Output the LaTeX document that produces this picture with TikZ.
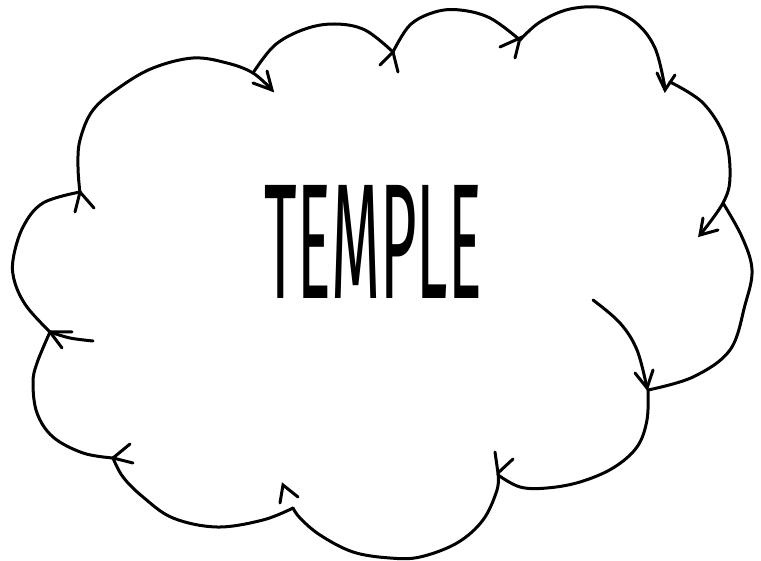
\documentclass[tikz,border=0pt]{standalone}
\usepackage{fontspec}
\newfontfamily\titlefont{Fira Sans}
\usepackage{graphicx}
\tikzset{
  cloudline/.style={line width=3pt, line cap=round, line join=round},
  barb/.style={line width=3pt, line cap=round, line join=miter},
}
\begin{document}
\begin{tikzpicture}[x=1pt,y=-1pt]
\useasboundingbox (0,0) rectangle (761,561);
% cloud arcs
\draw[cloudline] plot[smooth,tension=0.6] coordinates {(80,193) (78,167) (80,140) (93,110) (120,87) (153,68) (193,58) (227,63) (253,73) (272,90)};
\draw[cloudline] plot[smooth,tension=0.6] coordinates {(253,73) (275,45) (305,29) (335,24) (365,30) (393,52)};
\draw[cloudline] plot[smooth,tension=0.6] coordinates {(393,52) (410,25) (435,12) (460,10) (490,18) (520,40)};
\draw[cloudline] plot[smooth,tension=0.6] coordinates {(520,40) (540,22) (570,9) (605,8) (635,22) (655,48) (665,88)};
\draw[cloudline] plot[smooth,tension=0.6] coordinates {(670,82) (703,103) (725,138) (730,177) (723,203) (700,235)};
\draw[cloudline] plot[smooth,tension=0.6] coordinates {(723,203) (742,237) (752,270) (745,305) (730,350) (693,377) (648,390)};
\draw[cloudline] plot[smooth,tension=0.6] coordinates {(593,300) (620,323) (637,350) (647,388)};
\draw[cloudline] plot[smooth,tension=0.6] coordinates {(648,390) (647,420) (637,447) (613,468) (580,482) (547,488) (520,487) (498,475)};
\draw[cloudline] plot[smooth,tension=0.6] coordinates {(498,473) (497,490) (483,520) (457,543) (420,557) (390,558) (353,552) (320,535) (300,518) (293,508)};
\draw[cloudline] plot[smooth,tension=0.6] coordinates {(293,508) (263,520) (217,527) (173,518) (143,497) (123,477) (113,458)};
\draw[cloudline] plot[smooth,tension=0.6] coordinates {(113,458) (83,453) (53,437) (37,413) (33,383) (37,363) (50,332)};
\draw[cloudline] plot[smooth,tension=0.6] coordinates {(93,341) (70,338) (50,332)};
\draw[cloudline] plot[smooth,tension=0.6] coordinates {(50,332) (27,307) (15,283) (13,260) (23,227) (43,203) (80,192)};
% arrowheads
\draw[barb] (253,83) -- (272,90) -- (267,71);
\draw[barb] (380,65) -- (393,52) -- (398,72);
\draw[barb] (500,47) -- (520,38) -- (515,58);
\draw[barb] (657,73) -- (665,90) -- (675,75);
\draw[barb] (703,218) -- (700,235) -- (718,230);
\draw[barb] (635,373) -- (647,388) -- (653,370);
\draw[barb] (495,452) -- (498,473) -- (513,459);
\draw[barb] (280,503) -- (283,485) -- (298,497);
\draw[barb] (130,444) -- (113,458) -- (133,463);
\draw[barb] (72,332) -- (50,332) -- (62,348);
\draw[barb] (75,212) -- (80,192) -- (94,208);
% title
\node[inner sep=0pt] (title) at (373.5,241.5) {\resizebox{217pt}{113pt}{\titlefont TEMPLE}};
\end{tikzpicture}
\end{document}
